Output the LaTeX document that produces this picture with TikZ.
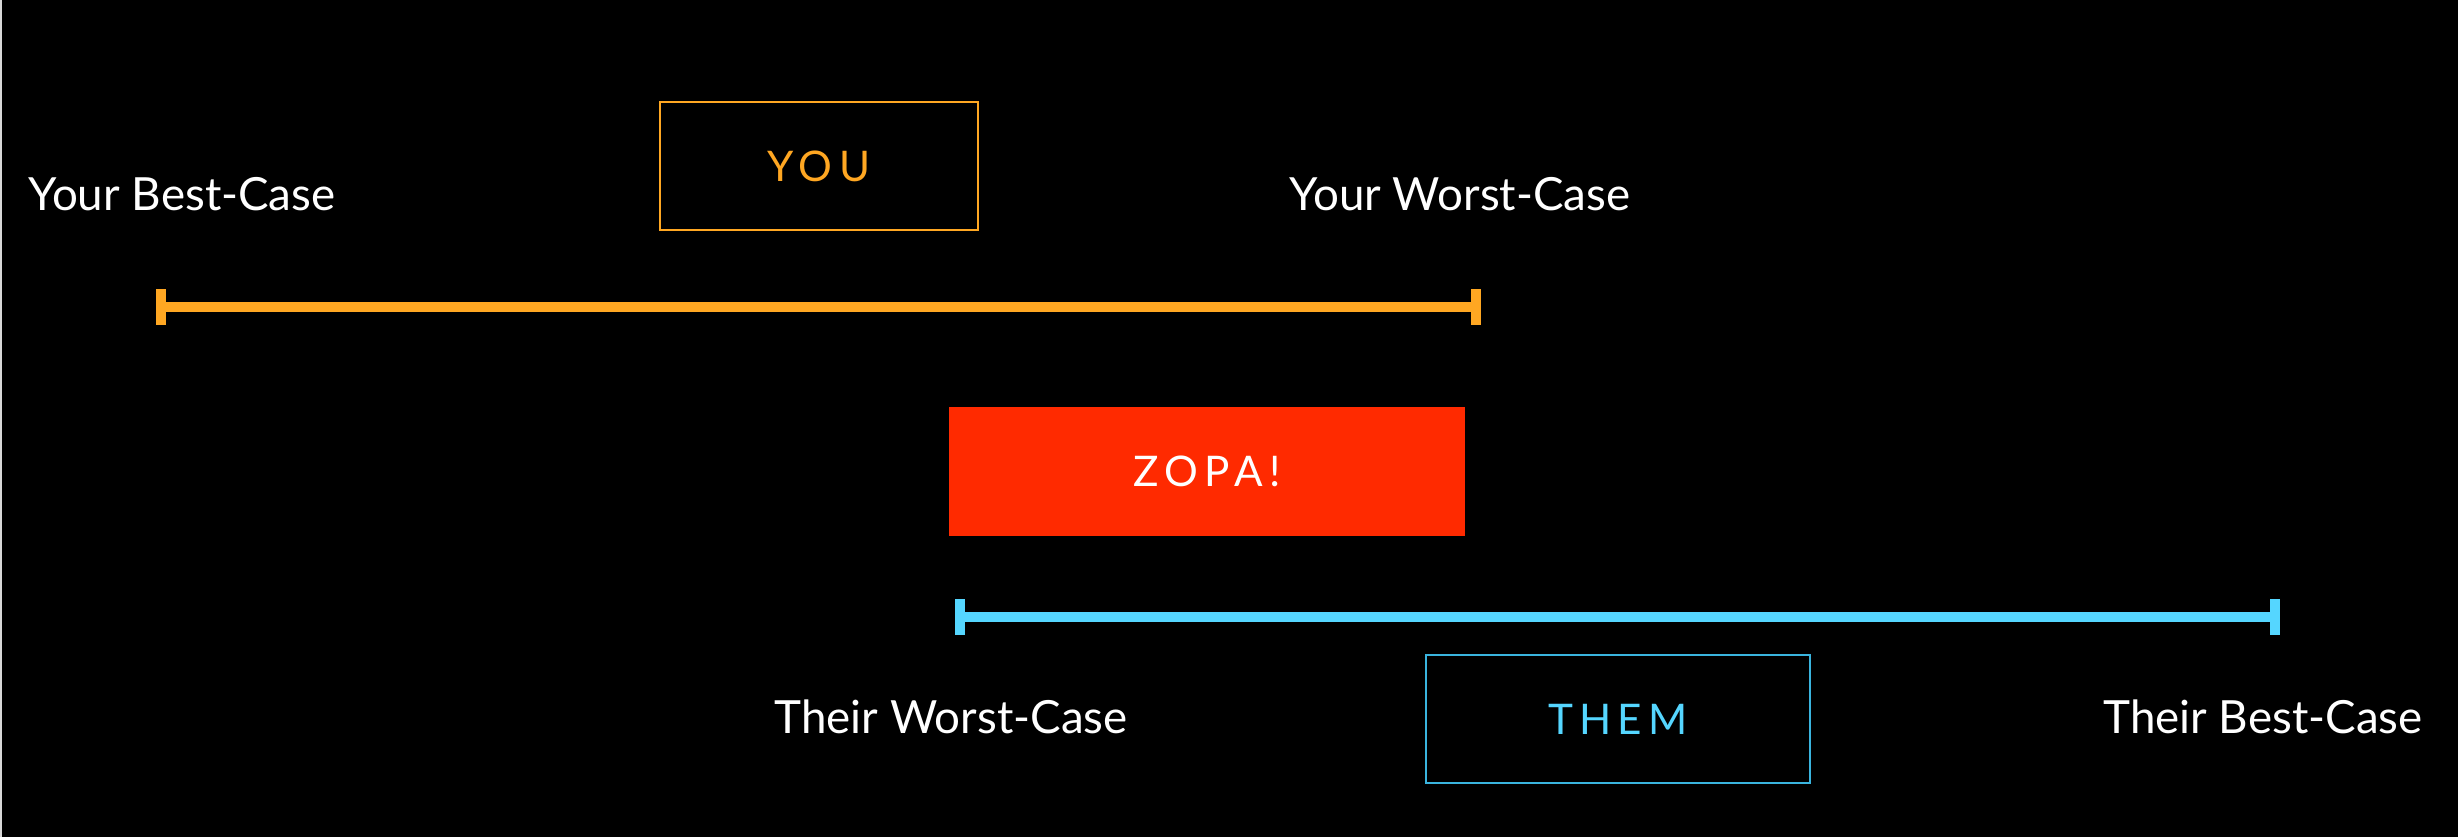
\documentclass[tikz,border=0pt]{standalone}
\usepackage{fontspec}
\setmainfont{Lato}
\usepackage{xcolor}
\usetikzlibrary{arrows.meta}
\definecolor{ZPOrange}{HTML}{FFA722}
\definecolor{ZPCyan}{HTML}{55D6FF}
\definecolor{ZPCyanDark}{HTML}{3AB4DE}
\definecolor{ZPRed}{HTML}{FF2A00}
\definecolor{ZPEdge}{HTML}{D8D8D8}
\tikzset{
  caseLabel/.style={anchor=base, inner sep=0pt, text=white, font=\fontsize{13pt}{15pt}\selectfont},
  sideBox/.style={draw, line width=0.43pt, minimum height=1.28cm, inner sep=0pt, font=\fontsize{12pt}{14pt}\selectfont\addfontfeature{LetterSpace=15}},
  youBox/.style={sideBox, draw=ZPOrange, text=ZPOrange, minimum width=3.18cm},
  themBox/.style={sideBox, draw=ZPCyanDark, text=ZPCyan, minimum width=3.84cm},
  zopaBox/.style={sideBox, draw=none, fill=ZPRed, text=white, minimum width=5.16cm, minimum height=1.29cm},
  rangeBar/.style={line width=1mm, {Rectangle[length=1mm,width=3.6mm,line width=0pt]}-{Rectangle[length=1mm,width=3.6mm,line width=0pt]}}
}

\begin{document}
\begin{tikzpicture}[x=0.01cm, y=-0.01cm]
  % Fondo
  \useasboundingbox (0,0) rectangle (2458,836);
  \fill[black] (-10,-10) rectangle (2468,846);
  \fill[ZPEdge] (-10,-10) rectangle (2,846);

  % Lado propio
  \node[youBox] (you) at (819,166) {YOU};
  \node[caseLabel] (yourBest) at (182,210) {Your Best-Case};
  \node[caseLabel] (yourWorst) at (1460,210) {Your Worst-Case};
  \coordinate (youLeft) at (156,307);
  \coordinate (youRight) at (1481,307);
  \draw[rangeBar, ZPOrange] (youLeft) -- (youRight);

  % Zona de acuerdo
  \node[zopaBox] (zopa) at (1207,471.5) {ZOPA!};

  % Lado contrario
  \coordinate (themLeft) at (955,617);
  \coordinate (themRight) at (2280,617);
  \draw[rangeBar, ZPCyan] (themLeft) -- (themRight);
  \node[themBox] (them) at (1618,719) {THEM};
  \node[caseLabel] (theirWorst) at (951,733) {Their Worst-Case};
  \node[caseLabel] (theirBest) at (2263,733) {Their Best-Case};
\end{tikzpicture}
\end{document}
